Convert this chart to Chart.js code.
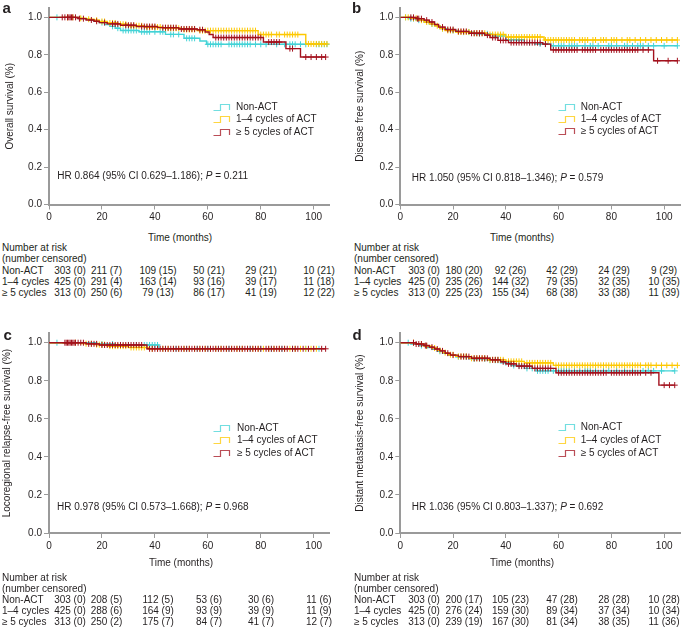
<!DOCTYPE html>
<html><head><meta charset="utf-8">
<script src="https://cdn.jsdelivr.net/npm/chart.js@4.4.1/dist/chart.umd.min.js"></script>
<style>
html,body{margin:0;padding:0;background:#fff;}
#fig{position:relative;width:685px;height:630px;overflow:hidden;font-family:"Liberation Sans",Arial,Helvetica,sans-serif;color:#231f20;background:#fff;}
#fig canvas{position:absolute;}
.t{position:absolute;font-size:10px;line-height:12px;white-space:nowrap;}
.c{text-align:center;width:80px;}
.lt{position:absolute;font-weight:bold;font-size:15px;line-height:15px;}
.lg svg{position:absolute;}
</style></head><body><div id="fig"></div>
<script>
// ---------- axis ticks ----------
const xTicks = [0, 20, 40, 60, 80, 100];
const yTicks = [0, 0.2, 0.4, 0.6, 0.8, 1.0];
const groups = ['Non-ACT', '1–4 cycles', '≥ 5 cycles'];
const legendLabels = ['Non-ACT', '1–4 cycles of ACT', '≥ 5 cycles of ACT'];

// ---------- a: Overall survival ----------
const osNonT = [0, 12, 15, 17, 19, 21, 23, 25, 27, 34, 44, 51, 57, 59.5];
const osNonS = [1, 0.993, 0.986, 0.979, 0.972, 0.962, 0.952, 0.942, 0.93, 0.923, 0.909, 0.888, 0.874, 0.856];
const osNonC = [3, 20, 24, 26, 28, 29, 30, 31, 32, 33, 35, 36, 37, 38, 40, 42, 43, 46, 47, 49, 52, 53, 54, 55, 60, 61, 62, 63, 64, 65, 68, 69, 70, 71, 72, 73, 74, 75, 76, 78, 80, 82, 86, 89, 91, 92, 93, 95, 97, 101, 102, 103, 104, 105];
const os14T = [0, 11, 14, 17, 19, 22, 26, 30, 36, 43, 50, 56, 79, 97];
const os14S = [1, 0.995, 0.99, 0.985, 0.978, 0.97, 0.963, 0.955, 0.948, 0.942, 0.935, 0.929, 0.908, 0.858];
const os14C = [7, 9, 12, 15, 18, 20, 21, 23, 24, 25, 27, 28, 29, 31, 32, 33, 34, 35, 37, 38, 39, 40, 41, 42, 44, 45, 46, 47, 48, 49, 51, 52, 53, 54, 55, 57, 58, 59, 60, 61, 62, 63, 64, 65, 66, 67, 68, 69, 70, 71, 72, 73, 74, 75, 76, 77, 78, 80, 81, 82, 83, 84, 86, 87, 89, 90, 91, 92, 93, 94, 98, 99, 100, 101, 102, 103, 104, 105];
const os5T = [0, 11, 14, 17, 19, 22, 27, 33, 41, 49, 56, 59, 60.5, 62, 81, 89.5, 95];
const os5S = [1, 0.993, 0.986, 0.979, 0.972, 0.965, 0.958, 0.951, 0.945, 0.938, 0.934, 0.922, 0.908, 0.892, 0.868, 0.833, 0.788];
const os5C = [5, 6, 7, 7.5, 8, 8.5, 9, 10, 11.5, 13, 16, 18, 21, 24, 25, 26, 29, 30, 31, 32, 35, 36, 37, 38, 39, 40, 43, 44, 45, 46, 47, 48, 50, 51, 52, 53, 54, 55, 57, 58, 63, 64, 65, 66, 67, 68, 69, 70, 71, 72, 73, 74, 75, 76, 77, 78, 79, 80, 83, 84, 85, 86, 87, 91, 92, 97, 99, 101, 103, 104.5];
const osAtRisk = [[303, 211, 109, 50, 29, 10], [425, 291, 163, 93, 39, 11], [313, 250, 79, 86, 41, 12]];
const osCens   = [[0, 7, 15, 21, 21, 21], [0, 4, 14, 16, 17, 18], [0, 6, 13, 17, 19, 22]];

// ---------- b: Disease free survival ----------
const dfsNonT = [0, 3, 6, 9, 11, 13, 15, 18, 22, 28, 35, 40, 47, 51, 57];
const dfsNonS = [1, 0.993, 0.985, 0.975, 0.965, 0.955, 0.94, 0.93, 0.921, 0.912, 0.9, 0.88, 0.865, 0.858, 0.848];
const dfsNonC = [2, 4, 5, 7, 12, 16, 20, 24, 26, 30, 33, 37, 38, 42, 44, 45, 49, 53, 55, 58, 60, 61, 62, 64, 65, 66, 67, 70, 72, 73, 75, 79, 80, 82, 85, 86, 88, 90, 91, 92, 94, 96, 100, 105];
const dfs14T = [0, 4, 7, 9, 11, 13, 15, 17, 21, 27, 33, 40, 54.5];
const dfs14S = [1, 0.995, 0.985, 0.975, 0.965, 0.955, 0.94, 0.93, 0.922, 0.915, 0.908, 0.895, 0.879];
const dfs14C = [2, 3, 5, 6, 8, 10, 12, 14, 16, 18, 19, 20, 22, 23, 24, 25, 26, 28, 29, 30, 31, 32, 34, 35, 36, 37, 38, 39, 41, 42, 43, 44, 45, 46, 47, 48, 49, 50, 51, 52, 53, 55, 56, 57, 58, 59, 60, 61, 62, 63, 64, 65, 66, 68, 69, 70, 71, 73, 74, 76, 77, 78, 80, 81, 82, 84, 86, 87, 89, 91, 93, 95, 97, 99, 101, 103, 105];
const dfs5T = [0, 6, 9, 11, 13, 14.5, 17, 21, 26, 32, 34, 37, 41, 54, 57, 96];
const dfs5S = [1, 0.993, 0.985, 0.975, 0.962, 0.948, 0.935, 0.925, 0.915, 0.905, 0.892, 0.877, 0.865, 0.857, 0.826, 0.768];
const dfs5C = [4, 5, 6.5, 7, 8, 10, 12, 16, 18, 19, 20, 22, 23, 24, 25, 27, 28, 29, 30, 31, 33, 35, 36, 38, 39, 40, 42, 43, 44, 45, 46, 47, 48, 49, 50, 51, 52, 53, 55, 58, 59, 60, 61, 62, 63, 64, 65, 66, 67, 69, 70, 71, 72, 73, 74, 76, 77, 78, 79, 80, 81, 82, 83, 84, 85, 86, 87, 88, 89, 90, 92, 94, 97.5, 101.5, 105];
const dfsAtRisk = [[303, 180, 92, 42, 24, 9], [425, 235, 144, 79, 32, 10], [313, 225, 155, 68, 33, 11]];
const dfsCens   = [[0, 20, 26, 29, 29, 29], [0, 26, 32, 35, 35, 35], [0, 23, 34, 38, 38, 39]];

// ---------- c: Locoregional relapse-free survival ----------
const lrNonT = [0, 18, 25, 41.5];
const lrNonS = [1, 0.993, 0.988, 0.968];
const lrNonC = [3, 20, 24, 27, 30, 33, 36, 37, 38, 39, 40, 41, 44, 48, 52, 56, 60, 64, 68, 72, 76, 80, 84, 88, 92, 97, 102];
const lr14T = [0, 12, 17, 22, 30, 37.5];
const lr14S = [1, 0.995, 0.99, 0.982, 0.975, 0.968];
const lr14C = [10, 14, 16, 18, 19, 20, 21, 23, 24, 25, 26, 27, 28, 29, 31, 32, 33, 34, 35, 36, 39, 41, 43, 45, 47, 49, 51, 53, 55, 57, 59, 61, 63, 65, 67, 69, 71, 73, 75, 77, 79, 81, 83, 85, 87, 89, 91, 93, 95, 97, 99, 101];
const lr5T = [0, 14, 19, 37];
const lr5S = [1, 0.994, 0.988, 0.968];
const lr5C = [6, 6.5, 7, 7.5, 8, 8.5, 9, 9.5, 10, 11, 12, 13, 15, 16, 17, 18, 20, 21, 22, 23, 24, 25, 26, 27, 28, 29, 30, 31, 32, 33, 34, 35, 38, 39, 40, 41, 42, 43, 44, 45, 46, 47, 48, 49, 50, 51, 52, 53, 54, 55, 56, 57, 58, 59, 60, 61, 62, 63, 64, 65, 66, 67, 68, 69, 70, 71, 72, 73, 74, 75, 76, 77, 78, 79, 80, 82, 83, 84, 85, 86, 87, 88, 89, 90, 92, 93, 94, 96, 98, 100, 103, 104.5];
const lrAtRisk = [[303, 208, 112, 53, 30, 11], [425, 288, 164, 93, 39, 11], [313, 250, 175, 84, 41, 12]];
const lrCens   = [[0, 5, 5, 6, 6, 6], [0, 6, 9, 9, 9, 9], [0, 2, 7, 7, 7, 7]];

// ---------- d: Distant metastasis-free survival ----------
const dmNonT = [0, 4, 7, 10, 12, 14, 16, 18, 21, 26, 33, 38, 42, 47, 51.5];
const dmNonS = [1, 0.993, 0.985, 0.975, 0.965, 0.955, 0.945, 0.935, 0.926, 0.915, 0.908, 0.895, 0.88, 0.865, 0.852];
const dmNonC = [3, 8, 15, 22, 25, 28, 30, 32, 34, 36, 37, 40, 43, 45, 48, 50, 52, 53, 54, 55, 56, 58, 60, 61, 62, 63, 64, 66, 68, 70, 71, 72, 74, 77, 79, 82, 85, 88, 92, 94, 96, 99, 104];
const dm14T = [0, 6, 9, 12, 14, 16, 18, 21, 26, 33, 40, 47, 58];
const dm14S = [1, 0.993, 0.983, 0.972, 0.96, 0.948, 0.937, 0.928, 0.918, 0.91, 0.902, 0.894, 0.881];
const dm14C = [5, 8, 10, 13, 15, 17, 19, 20, 22, 23, 24, 25, 27, 28, 29, 30, 31, 32, 34, 35, 36, 37, 38, 39, 41, 42, 43, 44, 45, 46, 48, 49, 50, 51, 52, 53, 54, 55, 56, 57, 59, 60, 61, 62, 63, 64, 65, 66, 67, 68, 69, 70, 71, 72, 73, 74, 75, 76, 77, 78, 79, 80, 81, 82, 83, 84, 85, 86, 87, 88, 89, 90, 91, 93, 94, 95, 97, 99, 101, 103, 105];
const dm5T = [0, 6, 9, 11, 13, 15, 17, 19, 22, 27, 34, 38, 40, 44, 50, 59, 98];
const dm5S = [1, 0.993, 0.985, 0.977, 0.967, 0.957, 0.945, 0.935, 0.927, 0.918, 0.91, 0.9, 0.889, 0.877, 0.865, 0.842, 0.777];
const dm5C = [5, 6, 7, 8, 9.5, 10, 12, 14, 16, 18, 20, 23, 24, 25, 26, 28, 29, 30, 31, 32, 33, 35, 36, 37, 39, 41, 42, 43, 45, 46, 47, 48, 49, 51, 52, 53, 54, 55, 56, 57, 60, 61, 62, 63, 64, 65, 66, 67, 68, 69, 70, 71, 72, 73, 74, 75, 76, 77, 78, 80, 81, 82, 83, 84, 85, 86, 87, 88, 89, 90, 91, 93, 95, 100, 102, 104];
const dmAtRisk = [[303, 200, 105, 47, 28, 10], [425, 276, 159, 89, 37, 10], [313, 239, 167, 81, 38, 11]];
const dmCens   = [[0, 17, 23, 28, 28, 28], [0, 24, 30, 34, 34, 34], [0, 19, 30, 34, 35, 36]];

// ---------- styling ----------
const colors = ['#43d3d6', '#fdc800', '#a3111d'];
const axisColor = '#9a9a9a';
const textColor = '#231f20';
const fontFamily = '"Liberation Sans", Arial, Helvetica, sans-serif';
const fig = document.getElementById('fig');

function buildKM(t, s, c) {
  const pts = t.map((x, i) => ({x: x, y: s[i], c: 0}));
  c.forEach(x => {
    let k = 0;
    while (k + 1 < t.length && t[k + 1] <= x) k++;
    pts.push({x: x, y: s[k], c: 1});
  });
  pts.sort((a, b) => a.x - b.x);
  return pts;
}

function addText(txt, left, top, cls, html) {
  const d = document.createElement('div');
  d.className = 't ' + (cls || '');
  d.style.left = left + 'px';
  d.style.top = top + 'px';
  if (html) d.innerHTML = txt; else d.textContent = txt;
  fig.appendChild(d);
  return d;
}

function makePanel(p) {
  const cv = document.createElement('canvas');
  cv.width = p.w; cv.height = p.h;
  cv.style.left = p.left + 'px'; cv.style.top = p.top + 'px';
  cv.style.width = p.w + 'px'; cv.style.height = p.h + 'px';
  fig.appendChild(cv);
  const datasets = p.series.map((s, i) => ({
    label: legendLabels[i],
    data: buildKM(s[0], s[1], s[2]),
    stepped: 'before',
    borderColor: colors[i],
    borderWidth: 1.4,
    pointStyle: 'cross',
    pointRadius: ctx => (ctx.raw && ctx.raw.c ? 3 : 0),
    pointBorderColor: colors[i],
    pointBorderWidth: 1,
    fill: false,
    order: 2 - i
  }));
  const tickFont = {family: fontFamily, size: 10};
  new Chart(cv, {
    type: 'line',
    data: {datasets: datasets},
    options: {
      responsive: false, animation: false, events: [], devicePixelRatio: 1,
      layout: {padding: {top: p.padTop, right: p.padRight, left: 0, bottom: 0}},
      plugins: {legend: {display: false}, tooltip: {enabled: false}},
      scales: {
        x: {
          type: 'linear', min: 0, max: 106,
          afterBuildTicks: sc => { sc.ticks = xTicks.map(v => ({value: v})); },
          afterFit: sc => { sc.height = p.xH; },
          ticks: {font: tickFont, color: textColor, padding: 2, maxRotation: 0, autoSkip: false, callback: v => String(v)},
          grid: {drawOnChartArea: false, drawTicks: true, tickLength: 5, tickColor: axisColor, tickWidth: 1},
          border: {display: true, color: axisColor, width: 2}
        },
        y: {
          type: 'linear', min: 0, max: 1.05,
          afterBuildTicks: sc => { sc.ticks = yTicks.map(v => ({value: v})); },
          afterFit: sc => { sc.width = p.yW; },
          ticks: {font: tickFont, color: textColor, padding: 2, callback: v => Number(v).toFixed(1)},
          title: {display: true, text: p.yTitle, font: tickFont, color: textColor, padding: {top: p.yTitlePad, bottom: 0}},
          grid: {drawOnChartArea: false, drawTicks: true, tickLength: 5, tickColor: axisColor, tickWidth: 1},
          border: {display: true, color: axisColor, width: 2}
        }
      }
    }
  });

  // panel letter
  const L = document.createElement('div');
  L.className = 'lt'; L.textContent = p.letter;
  L.style.left = p.letterPos[0] + 'px'; L.style.top = p.letterPos[1] + 'px';
  fig.appendChild(L);

  // legend
  p.legendYs.forEach((cy, i) => {
    const svg = document.createElementNS('http://www.w3.org/2000/svg', 'svg');
    svg.setAttribute('width', '20'); svg.setAttribute('height', '10');
    svg.style.position = 'absolute';
    svg.style.left = p.legendX + 'px'; svg.style.top = (cy - 5) + 'px';
    const path = document.createElementNS('http://www.w3.org/2000/svg', 'path');
    path.setAttribute('d', 'M0.5 8.5 H7.5 V2.5 H16.5 V8');
    path.setAttribute('fill', 'none');
    path.setAttribute('stroke', colors[i]);
    path.setAttribute('stroke-opacity', '0.75');
    path.setAttribute('stroke-width', '1.2');
    svg.appendChild(path);
    fig.appendChild(svg);
    addText(legendLabels[i], p.legendTextX, cy - 6);
  });

  // HR text
  addText(p.hr, p.hrPos[0], p.hrPos[1] - 6, '', true);

  // x title
  addText('Time (months)', p.xTitlePos[0] - 40, p.xTitlePos[1] - 6, 'c');

  // risk table
  addText('Number at risk', p.riskLabelX, p.riskYs[0] - 6);
  addText('(number censored)', p.riskLabelX, p.riskYs[1] - 6);
  for (let r = 0; r < 3; r++) {
    const cy = p.riskYs[2 + r];
    addText(groups[r], p.riskLabelX, cy - 6);
    for (let k = 0; k < 6; k++) {
      addText(p.atRisk[r][k] + ' (' + p.cens[r][k] + ')', p.colX[k] - 40, cy - 6, 'c');
    }
  }
}

const leftCols = [70, 106.5, 158, 209, 261, 319];
const rightCols = [424, 464, 510.5, 562, 614, 664];

makePanel({
  letter: 'a', letterPos: [2.5, 0],
  left: 0, top: 0, w: 340, h: 230, padTop: 7.1, padRight: 10.4, xH: 25.5, yW: 49, yTitlePad: 4,
  yTitle: 'Overall survival (%)',
  series: [[osNonT, osNonS, osNonC], [os14T, os14S, os14C], [os5T, os5S, os5C]],
  legendX: 213, legendTextX: 236, legendYs: [107.3, 119.3, 131.5],
  hr: 'HR 0.864 (95% CI 0.629–1.186); <i>P</i> = 0.211', hrPos: [57.3, 176],
  xTitlePos: [180, 237.5],
  riskLabelX: 2, riskYs: [248.3, 259.3, 270.7, 281.7, 292.9],
  colX: leftCols, atRisk: osAtRisk, cens: osCens
});
makePanel({
  letter: 'b', letterPos: [352, 0],
  left: 340, top: 0, w: 345, h: 230, padTop: 7.1, padRight: 1.2, xH: 25.5, yW: 60.3, yTitlePad: 14,
  yTitle: 'Disease free survival (%)',
  series: [[dfsNonT, dfsNonS, dfsNonC], [dfs14T, dfs14S, dfs14C], [dfs5T, dfs5S, dfs5C]],
  legendX: 558, legendTextX: 580.7, legendYs: [107.3, 119.3, 131.3],
  hr: 'HR 1.050 (95% CI 0.818–1.346); <i>P</i> = 0.579', hrPos: [411.7, 178],
  xTitlePos: [522, 237.5],
  riskLabelX: 354, riskYs: [248.3, 259.3, 270.7, 281.7, 292.9],
  colX: rightCols, atRisk: dfsAtRisk, cens: dfsCens
});
makePanel({
  letter: 'c', letterPos: [3.5, 327.3],
  left: 0, top: 300, w: 340, h: 260, padTop: 33.2, padRight: 10.4, xH: 27, yW: 49, yTitlePad: 1,
  yTitle: 'Locoregional relapse-free survival (%)',
  series: [[lrNonT, lrNonS, lrNonC], [lr14T, lr14S, lr14C], [lr5T, lr5S, lr5C]],
  legendX: 213, legendTextX: 237, legendYs: [427.7, 440.3, 453],
  hr: 'HR 0.978 (95% CI 0.573–1.668); <i>P</i> = 0.968', hrPos: [57, 507],
  xTitlePos: [181, 562.7],
  riskLabelX: 2, riskYs: [577.5, 589, 600, 610.9, 621.9],
  colX: leftCols, atRisk: lrAtRisk, cens: lrCens
});
makePanel({
  letter: 'd', letterPos: [352.5, 327.3],
  left: 340, top: 300, w: 345, h: 260, padTop: 33.2, padRight: 1.2, xH: 27, yW: 60.3, yTitlePad: 14,
  yTitle: 'Distant metastasis-free survival (%)',
  series: [[dmNonT, dmNonS, dmNonC], [dm14T, dm14S, dm14C], [dm5T, dm5S, dm5C]],
  legendX: 558, legendTextX: 580.7, legendYs: [427, 440, 452.7],
  hr: 'HR 1.036 (95% CI 0.803–1.337); <i>P</i> = 0.692', hrPos: [411.7, 507],
  xTitlePos: [522, 562.7],
  riskLabelX: 354, riskYs: [577.5, 589, 600, 610.9, 621.9],
  colX: rightCols, atRisk: dmAtRisk, cens: dmCens
});
</script></body></html>
